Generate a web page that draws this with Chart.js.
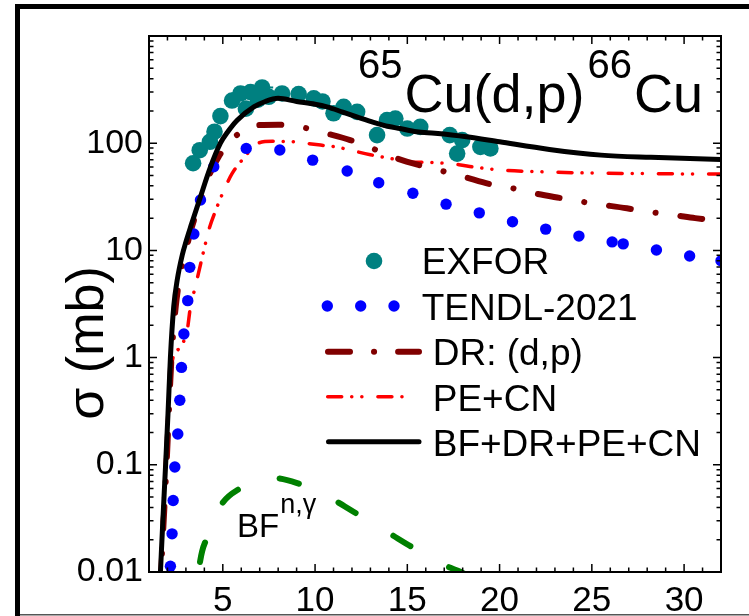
<!DOCTYPE html>
<html>
<head>
<meta charset="utf-8">
<script src="https://cdn.jsdelivr.net/npm/chart.js@4.4.1/dist/chart.umd.min.js"></script>
<style>
  html, body { margin: 0; padding: 0; background: #fff; }
  #wrap { position: relative; width: 749px; height: 616px; }
</style>
</head>
<body>
<div id="wrap"><canvas id="xsChart" width="749" height="616"></canvas></div>
<script>
const FONT = '"Liberation Sans", Arial, sans-serif';

// deuteron energy (MeV) and cross section (mb)
const exforE = [3.39, 3.75, 4.3, 4.55, 4.87, 5.5, 5.96, 6.25, 6.5, 6.9, 7.13, 7.49, 8.21, 9.11, 9.93, 10.4, 11.0, 11.55, 12.28, 13.36, 13.9, 14.35, 15.0, 15.7, 17.3, 17.7, 17.97, 18.96, 19.5];
const exforSigma = [65, 86, 103, 128, 179, 250, 291, 210, 300, 255, 331, 271, 291, 287, 262, 245, 190, 218, 196, 119, 164, 170, 137, 142, 119, 80, 107, 92.5, 89.4];
const exforErrE = [0, 0, 0.4, 0, 0, 0, 0.5, 0, 0, 0, 0.6, 0, 0, 0, 0, 0, 0, 0, 0, 0, 0, 0, 0, 0, 0, 0, 0, 0, 0];

const tendlE = [2.16, 2.25, 2.31, 2.4, 2.56, 2.67, 2.76, 2.89, 3.1, 3.21, 3.43, 3.79, 4.51, 6.27, 8.09, 9.87, 11.74, 13.45, 15.3, 17.1, 18.9, 20.7, 22.5, 24.3, 26.1, 26.7, 28.5, 30.3, 32];
const tendlSigma = [0.0113, 0.0227, 0.0465, 0.0953, 0.194, 0.4, 0.81, 1.66, 3.4, 6.95, 14.2, 29.5, 60.3, 89.4, 86.3, 69.5, 55, 42.8, 34.1, 27, 22.4, 18.5, 15.8, 13.6, 12, 11.5, 10.1, 8.87, 8.0];

const drE = [1.65, 1.95, 2.22, 2.45, 2.7, 3.0, 3.3, 3.7, 4.15, 4.78, 5.69, 6.4, 7.0, 8.0, 8.6, 9.44, 10.65, 11.9, 13.2, 14.4, 15.6, 16.9, 18.0, 19.6, 20.7, 21.8, 23.3, 25, 26.9, 28, 29.5, 30.6, 32];
const drSigma = [0.01, 0.1, 1, 3, 6, 10, 16, 26, 45, 75, 116, 140, 148, 149, 146, 139, 123, 107, 88, 72.5, 62.7, 55, 49, 41, 38, 34.3, 30.8, 27.5, 24.7, 23, 21.3, 20, 18.8];

const peE = [1.6, 1.88, 2.1, 2.3, 2.6, 2.8, 3.05, 3.25, 3.5, 3.8, 4.06, 4.24, 4.69, 5.14, 5.5, 6.2, 6.9, 7.7, 8.94, 9.57, 10.3, 11.2, 11.8, 13, 14.1, 15, 16.4, 17.8, 18.6, 20.2, 22.4, 24.2, 28, 32];
const peSigma = [0.01, 0.1, 0.5, 1.0, 1.2, 1.35, 1.7, 3, 4.5, 7.5, 11.6, 15.5, 25.5, 39, 52, 74.7, 100, 104, 103, 99.6, 96, 92, 87, 78, 72, 67, 66, 63, 60, 56, 54, 53, 52, 51.5];

const bfE = [3.6, 3.88, 4.33, 4.87, 5.96, 7.0, 7.76, 9.03, 10.83, 12.2, 14.0, 15.35, 17.15, 17.9, 18.5];
const bfSigma = [0.0085, 0.0156, 0.0239, 0.041, 0.0606, 0.072, 0.0752, 0.0675, 0.049, 0.0355, 0.0231, 0.0167, 0.0113, 0.01, 0.0088];

const totalE = [1.62, 1.75, 1.9, 2.03, 2.16, 2.34, 2.53, 2.8, 3.0, 3.3, 3.79, 4.3, 4.87, 5.3, 5.78, 6.68, 7.3, 8.0, 9.0, 10.0, 10.65, 11.5, 12.3, 13.0, 14.0, 14.6, 15.5, 16.5, 18.2, 20.0, 22.7, 25.5, 28.2, 32];
const totalSigma = [0.01, 0.03, 0.1, 0.3, 1.0, 3.0, 5.3, 9.0, 12.0, 17.5, 31.7, 58, 100, 130, 164, 218, 245, 262, 245, 231, 218, 195, 175, 160, 143, 137, 128, 124, 115, 103, 87.5, 77.4, 73.8, 70.6];

const xTicks = [5, 10, 15, 20, 25, 30];
const yTicks = [0.01, 0.1, 1, 10, 100];
const yTickLabels = ["0.01", "0.1", "1", "10", "100"];

const DR_DASH = [22, 25, 0.1, 25];
const PE_DASH = [14, 10, 0.1, 10, 0.1, 16];
const BF_DASH = [20, 44];

function pts(xs, ys) {
  return xs.map((x, i) => ({ x: x, y: ys[i] }));
}

// frame, inward ticks, title, legend and annotations
const decorations = {
  id: "decorations",
  beforeDatasetsDraw(chart) {
    const ctx = chart.ctx;
    const xs = chart.scales.x, ys = chart.scales.y;
    ctx.save();
    ctx.strokeStyle = "#008080";
    ctx.lineWidth = 2;
    exforE.forEach((e, i) => {
      if (!exforErrE[i]) return;
      const py = ys.getPixelForValue(exforSigma[i]);
      ctx.beginPath();
      ctx.moveTo(xs.getPixelForValue(e - exforErrE[i]), py);
      ctx.lineTo(xs.getPixelForValue(e + exforErrE[i]), py);
      ctx.stroke();
    });
    ctx.restore();
  },
  afterDraw(chart) {
    const ctx = chart.ctx;
    const a = chart.chartArea;
    const xs = chart.scales.x, ys = chart.scales.y;
    ctx.save();

    // outer frame
    ctx.fillStyle = "#000";
    ctx.fillRect(15, 4, 5, 612);
    ctx.fillRect(15, 4, 734, 5);
    ctx.fillStyle = "#555";
    ctx.fillRect(20, 614, 729, 1.5);

    // plot box
    ctx.strokeStyle = "#000";
    ctx.lineWidth = 2;
    ctx.strokeRect(a.left, a.top, a.right - a.left, a.bottom - a.top);

    // ticks on all four sides, pointing in
    ctx.lineWidth = 1.5;
    ctx.beginPath();
    for (let v = 2; v <= 32; v++) {
      const px = xs.getPixelForValue(v);
      const len = v % 5 === 0 ? 8 : 4.5;
      ctx.moveTo(px, a.bottom); ctx.lineTo(px, a.bottom - len);
      ctx.moveTo(px, a.top); ctx.lineTo(px, a.top + len);
    }
    for (let d = -2; d <= 2; d++) {
      for (let k = 1; k <= 9; k++) {
        const v = k * Math.pow(10, d);
        const py = ys.getPixelForValue(v);
        const len = k === 1 ? 8 : 4.5;
        ctx.moveTo(a.left, py); ctx.lineTo(a.left + len, py);
        ctx.moveTo(a.right, py); ctx.lineTo(a.right - len, py);
      }
    }
    ctx.stroke();

    // reaction label
    ctx.fillStyle = "#000";
    ctx.textBaseline = "alphabetic";
    ctx.textAlign = "left";
    let x = 358;
    ctx.font = "40px " + FONT;
    ctx.fillText("65", x, 78);
    x += ctx.measureText("65").width + 2;
    ctx.font = "54px " + FONT;
    ctx.fillText("Cu(d,p)", x, 112);
    x += ctx.measureText("Cu(d,p)").width + 3;
    ctx.font = "40px " + FONT;
    ctx.fillText("66", x, 78);
    x += ctx.measureText("66").width + 2;
    ctx.font = "54px " + FONT;
    ctx.fillText("Cu", x, 112);

    // BF label
    ctx.font = "33px " + FONT;
    ctx.fillText("BF", 237, 537);
    const bw = ctx.measureText("BF").width;
    ctx.font = "27px " + FONT;
    ctx.fillText("n,\u03b3", 237 + bw + 1, 513);

    // y axis title
    ctx.save();
    ctx.translate(89, 343);
    ctx.rotate(-Math.PI / 2);
    ctx.textAlign = "center";
    ctx.textBaseline = "middle";
    ctx.font = "52px " + FONT;
    ctx.fillText("\u03c3 (mb)", 0, 0);
    ctx.restore();

    // legend
    ctx.font = "37px " + FONT;
    ctx.fillStyle = "#008080";
    ctx.beginPath(); ctx.arc(374, 261, 8.3, 0, Math.PI * 2); ctx.fill();
    ctx.fillStyle = "#0000ff";
    [327.3, 360.7, 394].forEach(cx => {
      ctx.beginPath(); ctx.arc(cx, 306, 5.7, 0, Math.PI * 2); ctx.fill();
    });
    ctx.lineCap = "round";
    ctx.strokeStyle = "#800000"; ctx.lineWidth = 6; ctx.setLineDash([22, 24, 0.1, 24]);
    ctx.beginPath(); ctx.moveTo(328, 351.7); ctx.lineTo(419, 351.7); ctx.stroke();
    ctx.strokeStyle = "#ff0000"; ctx.lineWidth = 3.5; ctx.setLineDash(PE_DASH);
    ctx.beginPath(); ctx.moveTo(327.7, 396.7); ctx.lineTo(412, 396.7); ctx.stroke();
    ctx.strokeStyle = "#000"; ctx.lineWidth = 5; ctx.setLineDash([]);
    ctx.beginPath(); ctx.moveTo(328.5, 441.7); ctx.lineTo(419, 441.7); ctx.stroke();

    ctx.fillStyle = "#000";
    ctx.fillText("EXFOR", 421.7, 274);
    ctx.fillText("TENDL-2021", 421.7, 319.5);
    ctx.fillText("DR: (d,p)", 432.7, 365);
    ctx.fillText("PE+CN", 432.7, 410.5);
    ctx.fillText("BF+DR+PE+CN", 432.7, 456);
    ctx.restore();
  }
};

const lineBase = {
  pointRadius: 0,
  fill: false,
  cubicInterpolationMode: "monotone",
  borderCapStyle: "round",
  clip: 0
};

const ctx = document.getElementById("xsChart").getContext("2d");
const chart = new Chart(ctx, {
  type: "line",
  data: {
    datasets: [
      Object.assign({}, lineBase, {
        label: "BF+DR+PE+CN",
        data: pts(totalE, totalSigma),
        borderColor: "#000000",
        borderWidth: 5,
        borderCapStyle: "butt",
        order: 0
      }),
      {
        label: "TENDL-2021",
        data: pts(tendlE, tendlSigma),
        showLine: false,
        pointRadius: 5.7,
        pointBackgroundColor: "#0000ff",
        pointBorderWidth: 0,
        clip: 0,
        order: 1
      },
      Object.assign({}, lineBase, {
        label: "DR: (d,p)",
        data: pts(drE, drSigma),
        borderColor: "#800000",
        borderWidth: 6,
        borderDash: DR_DASH,
        borderDashOffset: 28.7,
        order: 2
      }),
      Object.assign({}, lineBase, {
        label: "PE+CN",
        data: pts(peE, peSigma),
        borderColor: "#ff0000",
        borderWidth: 3.5,
        borderDash: PE_DASH,
        order: 3
      }),
      Object.assign({}, lineBase, {
        label: "BF n,\u03b3",
        data: pts(bfE, bfSigma),
        borderColor: "#008000",
        borderWidth: 6,
        borderDash: BF_DASH,
        borderDashOffset: 46.2,
        order: 4
      }),
      {
        label: "EXFOR",
        data: pts(exforE, exforSigma),
        showLine: false,
        pointRadius: 8.3,
        pointBackgroundColor: "#008080",
        pointBorderWidth: 0,
        clip: 0,
        order: 5
      }
    ]
  },
  options: {
    responsive: false,
    animation: false,
    devicePixelRatio: 1,
    layout: { padding: { top: 36, right: 28, left: 0, bottom: 0 } },
    plugins: {
      legend: { display: false },
      tooltip: { enabled: false }
    },
    scales: {
      x: {
        type: "linear",
        min: 1,
        max: 32,
        afterBuildTicks: s => { s.ticks = xTicks.map(v => ({ value: v })); },
        afterFit: s => { s.height = 44; },
        grid: { display: false, drawTicks: false },
        border: { display: false },
        ticks: {
          color: "#000",
          font: { family: FONT, size: 35 },
          padding: 8,
          maxRotation: 0,
          autoSkip: false
        }
      },
      y: {
        type: "logarithmic",
        min: 0.01,
        max: 1000,
        afterBuildTicks: s => { s.ticks = yTicks.map(v => ({ value: v })); },
        afterFit: s => { s.width = 149; },
        grid: { display: false, drawTicks: false },
        border: { display: false },
        ticks: {
          color: "#000",
          font: { family: FONT, size: 34 },
          padding: 6,
          autoSkip: false,
          callback: v => {
            const i = yTicks.indexOf(v);
            return i >= 0 ? yTickLabels[i] : "";
          }
        }
      }
    }
  },
  plugins: [decorations]
});
</script>
</body>
</html>
